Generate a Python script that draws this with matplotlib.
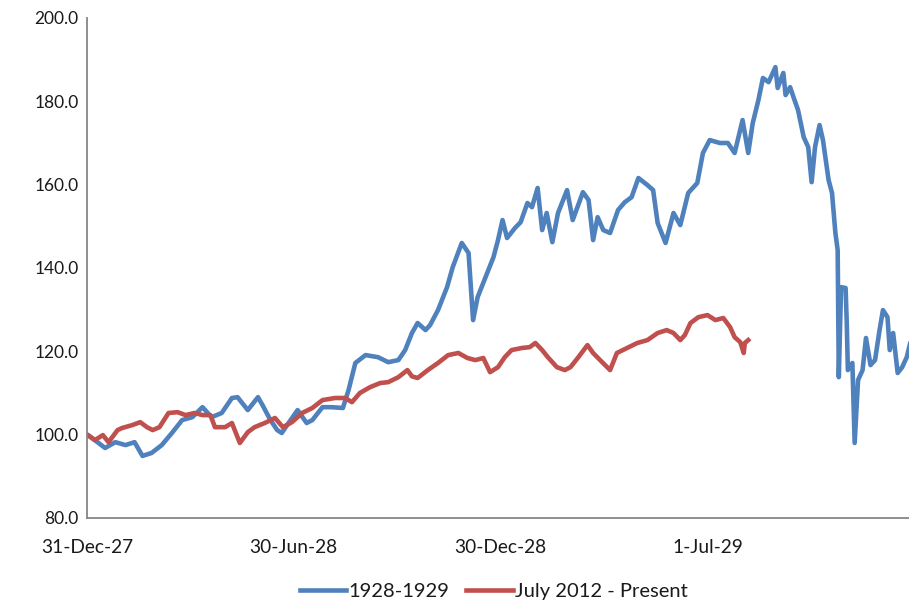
import numpy as np
import matplotlib.pyplot as plt

# days since 31-Dec-1927
days_1929 = [0, 1, 16, 25, 34, 42, 49, 57, 66, 75, 84, 93, 102, 110, 119, 128, 133, 142, 147, 151,
             155, 162, 168, 172, 178, 186, 194, 199, 208, 216, 226, 231, 237, 246, 257, 266, 275, 281,
             287, 292, 299, 303, 310, 318, 323, 331, 337, 341, 345, 352, 359, 363, 367, 371, 378, 383,
             389, 393, 398, 402, 406, 411, 416, 424, 429, 438, 443, 447, 451, 456, 462, 469, 475, 481,
             487, 495, 500, 504, 511, 518, 524, 531, 539, 544, 550, 559, 566, 572, 579, 584, 588, 593,
             597, 602, 608, 610, 615, 617, 621, 624, 628, 633, 637, 640, 643, 647, 650, 655, 658, 661,
             663, 664, 666, 670, 671, 672, 676, 678, 681, 685, 688, 692, 696, 700, 703, 707, 709, 712,
             716, 720, 724, 728]
vals_1929 = [100.0, 99.9, 96.8, 98.2, 97.5, 98.2, 94.9, 95.6, 97.5, 100.4, 103.5, 104.2, 106.6, 104.2,
             105.2, 108.8, 109.0, 105.9, 107.6, 109.0, 107.1, 103.5, 101.1, 100.4, 102.8, 105.9, 102.8,
             103.5, 106.6, 106.6, 106.4, 110.7, 117.2, 119.1, 118.6, 117.4, 117.9, 120.3, 124.4, 126.8,
             125.1, 126.3, 129.9, 135.4, 140.2, 146.0, 143.6, 127.5, 133.0, 137.8, 142.6, 146.7, 151.5,
             147.2, 149.6, 151.0, 155.6, 154.6, 159.2, 149.1, 153.2, 146.2, 153.2, 158.7, 151.5, 158.2,
             156.3, 146.7, 152.2, 149.1, 148.4, 153.9, 155.8, 157.0, 161.6, 159.9, 158.7, 150.8, 146.0,
             153.2, 150.3, 158.0, 160.4, 167.6, 170.7, 170.0, 170.0, 167.6, 175.5, 167.6, 174.8, 180.3,
             185.6, 184.6, 188.2, 183.2, 186.8, 181.5, 183.4, 181.0, 177.9, 171.4, 169.0, 160.6, 169.0,
             174.3, 170.7, 161.1, 158.0, 148.4, 144.3, 113.8, 135.4, 135.2, 127.0, 115.5, 117.2, 98.0,
             113.1, 115.5, 123.2, 116.7, 117.9, 125.1, 129.9, 128.2, 120.3, 124.4, 114.8, 116.2, 118.6,
             123.0]

days_2012 = [0, 7, 14, 19, 27, 31, 40, 47, 53, 58, 64, 72, 80, 87, 95, 102, 109, 113, 122, 128, 135,
             142, 148, 157, 166, 173, 181, 190, 199, 208, 219, 228, 234, 241, 250, 259, 266, 275, 283,
             287, 292, 301, 310, 319, 328, 336, 343, 350, 356, 363, 369, 375, 384, 391, 396, 402, 407,
             415, 422, 427, 434, 442, 447, 455, 462, 468, 477, 486, 495, 504, 512, 518, 524, 528, 533,
             540, 548, 555, 562, 568, 572, 577, 580, 581, 584]
vals_2012 = [100.0, 98.7, 99.9, 98.2, 101.1, 101.6, 102.3, 103.0, 101.8, 101.1, 101.8, 105.2, 105.4,
             104.7, 105.2, 104.7, 104.7, 101.8, 101.8, 102.8, 98.0, 100.6, 101.8, 102.8, 104.0, 101.8,
             103.0, 105.2, 106.4, 108.3, 108.8, 108.8, 107.8, 110.0, 111.4, 112.4, 112.6, 113.8, 115.5,
             114.0, 113.6, 115.5, 117.2, 119.1, 119.6, 118.4, 117.9, 118.4, 115.0, 116.2, 118.6, 120.3,
             120.8, 121.0, 122.0, 120.3, 118.6, 116.2, 115.5, 116.2, 118.6, 121.5, 119.6, 117.4, 115.5,
             119.6, 120.8, 122.0, 122.7, 124.4, 125.1, 124.4, 122.7, 123.9, 126.8, 128.2, 128.7, 127.5,
             128.0, 125.8, 123.4, 122.2, 119.6, 122.0, 122.7]

tick_dates = ['1927-12-31', '1928-06-30', '1928-12-30', '1929-07-01']
tick_labels = ['31-Dec-27', '30-Jun-28', '30-Dec-28', '1-Jul-29']

start = np.datetime64('1927-12-31')
x_1929 = start + np.array(days_1929).astype('timedelta64[D]')
x_2012 = start + np.array(days_2012).astype('timedelta64[D]')

plt.rcParams['font.family'] = ['Lato', 'DejaVu Sans']

fig = plt.figure(figsize=(9.09, 6.01), dpi=100)
ax = fig.add_axes([87 / 909, 1 - 518 / 601, 1 - 87 / 909, 500 / 601])

ax.plot(x_1929, vals_1929, color='#4F81BD', lw=3.3, label='1928-1929', solid_joinstyle='round')
ax.plot(x_2012, vals_2012, color='#C0504D', lw=3.3, label='July 2012 - Present', solid_joinstyle='round')

ax.set_ylim(80, 200)
ax.set_yticks(np.arange(80, 201, 20))
ax.yaxis.set_major_formatter(plt.FormatStrFormatter('%.1f'))
ax.set_xlim(start, start + np.timedelta64(726, 'D'))
ax.set_xticks([np.datetime64(d) for d in tick_dates])
ax.set_xticklabels(tick_labels)

for s in ['top', 'right']:
    ax.spines[s].set_visible(False)
for s in ['left', 'bottom']:
    ax.spines[s].set_color('#868686')
    ax.spines[s].set_linewidth(1.3)
ax.tick_params(axis='both', length=0, colors='#1a1a1a')
ax.tick_params(axis='y', pad=6, labelsize=12.5)
ax.tick_params(axis='x', pad=15, labelsize=13.8)

fig.legend(loc='center', bbox_to_anchor=(0.543, 0.016), ncol=2, frameon=False, fontsize=14.5,
           handlelength=2.3, handletextpad=0.1, columnspacing=0.85, labelcolor='#1a1a1a')

fig.savefig('out.png', dpi=100)
